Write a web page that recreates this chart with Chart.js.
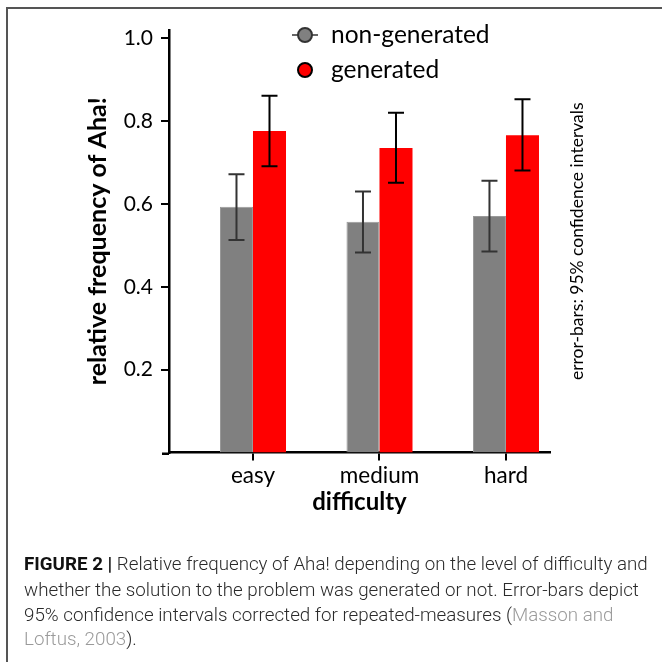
<!DOCTYPE html>
<html>
<head>
<meta charset="utf-8">
<script src="https://cdn.jsdelivr.net/npm/chart.js@4"></script>
<style>
  html, body { margin: 0; padding: 0; background: #fff; }
  #wrap { position: relative; width: 662px; height: 662px; overflow: hidden; }
  #frame { position: absolute; left: 6px; top: 7px; width: 700px; height: 700px;
           border-top: 2px solid #555; border-left: 2px solid #555; }
  canvas { position: absolute; left: 0; top: 0; }
  .cap { position: absolute; left: 24px; white-space: nowrap; font-family: Roboto, "Liberation Sans", sans-serif;
         font-size: 17px; font-weight: 300; color: #2a2a2a; }
  .cap b { color: #111; font-weight: 700; }
  .cap .ref { color: #9a9a9a; }
</style>
</head>
<body>
<div id="wrap">
  <div id="frame"></div>
  <canvas id="c" width="662" height="662"></canvas>
  <div class="cap" id="l1" style="top:553px"><b>FIGURE 2 |</b> Relative frequency of Aha! depending on the level of difficulty and</div>
  <div class="cap" id="l2" style="top:579px">whether the solution to the problem was generated or not. Error-bars depict</div>
  <div class="cap" id="l3" style="top:604px">95% confidence intervals corrected for repeated-measures (<span class="ref">Masson and</span></div>
  <div class="cap" id="l4" style="top:628px"><span class="ref">Loftus, 2003</span>).</div>
</div>
<script>
// ---- data ----
const categories = ['easy', 'medium', 'hard'];
const seriesNames = ['non-generated', 'generated'];
const nonGenerated = [0.593, 0.557, 0.571];
const generated = [0.776, 0.735, 0.766];
const nonGenLow = [0.513, 0.483, 0.485];
const nonGenHigh = [0.672, 0.630, 0.656];
const genLow = [0.691, 0.651, 0.681];
const genHigh = [0.861, 0.820, 0.853];
const yTicks = [0.2, 0.4, 0.6, 0.8, 1.0];

// fit caption line 1 to its width
(function () {
  const l1 = document.getElementById('l1');
  const w = l1.getBoundingClientRect().width;
  const target = 624;
  const fs = 17 * target / w;
  document.querySelectorAll('.cap').forEach(d => d.style.fontSize = fs.toFixed(2) + 'px');
})();

const FONT = 'Lato, "Open Sans", sans-serif';

const errorBars = {
  id: 'errorBars',
  afterDatasetsDraw(chart) {
    const ctx = chart.ctx;
    const y = chart.scales.y;
    const lows = [nonGenLow, genLow];
    const highs = [nonGenHigh, genHigh];
    const colors = ['#333333', '#000000'];
    chart.data.datasets.forEach((ds, di) => {
      const meta = chart.getDatasetMeta(di);
      meta.data.forEach((bar, i) => {
        const x = bar.x;
        const yl = y.getPixelForValue(lows[di][i]);
        const yh = y.getPixelForValue(highs[di][i]);
        const hw = 8;
        ctx.save();
        ctx.strokeStyle = colors[di];
        ctx.lineWidth = 2;
        ctx.beginPath();
        ctx.moveTo(x, yl); ctx.lineTo(x, yh);
        ctx.moveTo(x - hw, yl); ctx.lineTo(x + hw, yl);
        ctx.moveTo(x - hw, yh); ctx.lineTo(x + hw, yh);
        ctx.stroke();
        ctx.restore();
      });
    });
  }
};

const extras = {
  id: 'extras',
  afterDraw(chart) {
    const ctx = chart.ctx;
    const ca = chart.chartArea;
    // x-axis line extends slightly left of the y axis
    ctx.save();
    ctx.strokeStyle = '#000';
    ctx.lineWidth = 2.5;
    ctx.beginPath();
    ctx.moveTo(ca.left - 7, ca.bottom + 1.25);
    ctx.lineTo(ca.left, ca.bottom + 1.25);
    ctx.stroke();
    ctx.restore();
    // custom legend
    const lx = 305, ly0 = 35, dy = 35;
    chart.data.datasets.forEach((ds, i) => {
      const cy = ly0 + i * dy;
      ctx.save();
      if (i === 0) {
        ctx.strokeStyle = '#666';
        ctx.lineWidth = 2;
        ctx.beginPath(); ctx.moveTo(lx - 13, cy); ctx.lineTo(lx + 13, cy); ctx.stroke();
      }
      ctx.beginPath();
      ctx.arc(lx, cy, 7, 0, Math.PI * 2);
      ctx.fillStyle = ds.backgroundColor;
      ctx.fill();
      ctx.lineWidth = 2;
      ctx.strokeStyle = i === 0 ? '#333' : '#000';
      ctx.stroke();
      ctx.fillStyle = '#000';
      ctx.font = '24.5px ' + FONT;
      ctx.textBaseline = 'middle';
      ctx.textAlign = 'left';
      ctx.fillText(ds.label, lx + 26, cy);
      ctx.restore();
    });
    // right rotated note
    ctx.save();
    ctx.translate(ca.right + 27, (ca.top + ca.bottom) / 2);
    ctx.rotate(-Math.PI / 2);
    ctx.font = '17.5px ' + FONT;
    ctx.fillStyle = '#000';
    ctx.textAlign = 'center';
    ctx.textBaseline = 'middle';
    ctx.fillText('error-bars: 95% confidence intervals', 0, 0);
    ctx.restore();
  }
};

new Chart(document.getElementById('c'), {
  type: 'bar',
  data: {
    datasets: [
      { label: seriesNames[0], data: nonGenerated.map((v, i) => ({ x: i + 1, y: v })),
        backgroundColor: '#808080', borderColor: '#999999', borderWidth: 1,
        categoryPercentage: 0.522, barPercentage: 1.0 },
      { label: seriesNames[1], data: generated.map((v, i) => ({ x: i + 1, y: v })),
        backgroundColor: '#ff0000', borderColor: '#ff0000', borderWidth: 0,
        categoryPercentage: 0.522, barPercentage: 1.0 }
    ]
  },
  options: {
    responsive: false,
    animation: false,
    layout: { padding: { left: 80, top: 30, right: 112, bottom: 139.5 } },
    plugins: { legend: { display: false }, tooltip: { enabled: false } },
    scales: {
      x: {
        type: 'linear',
        offset: false,
        min: 0.336, max: 3.348,
        afterBuildTicks(scale) { scale.ticks = categories.map((c, i) => ({ value: i + 1 })); },
        afterFit(scale) { scale.height = 70; },
        ticks: { callback: (v) => categories[v - 1], color: '#000', font: { family: FONT, size: 22.5 }, padding: 2, maxRotation: 0, autoSkip: false },
        grid: { offset: false, drawOnChartArea: false, drawTicks: true, tickLength: 8, color: '#000', lineWidth: 2 },
        border: { display: true, color: '#000', width: 2.5 },
        title: { display: true, text: 'difficulty', color: '#000', font: { family: FONT, size: 24, weight: 'bold' }, padding: { top: 0, bottom: 6 } }
      },
      y: {
        min: 0, max: 1.02,
        afterBuildTicks(scale) { scale.ticks = yTicks.map(v => ({ value: v })); },
        afterFit(scale) { scale.width = 89; },
        ticks: { callback: (v) => v.toFixed(1), color: '#000', font: { family: FONT, size: 21 }, padding: 8 },
        grid: { drawOnChartArea: false, drawTicks: true, tickLength: 8, color: '#000', lineWidth: 2 },
        border: { display: true, color: '#000', width: 2.5 },
        title: { display: true, text: 'relative frequency of Aha!', color: '#000', font: { family: FONT, size: 25, weight: 'bold' }, padding: { top: 3, bottom: 0 } }
      }
    }
  },
  plugins: [errorBars, extras]
});
</script>
</body>
</html>
